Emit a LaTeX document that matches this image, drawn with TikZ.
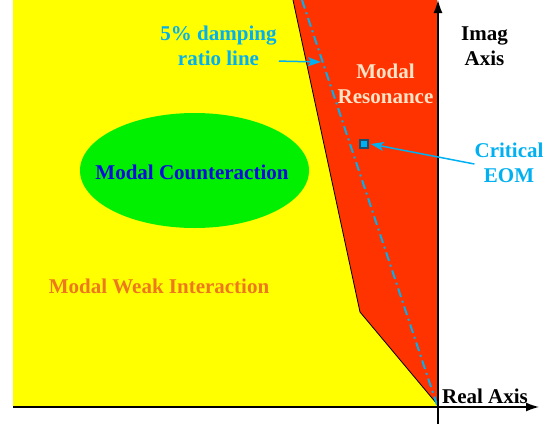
\documentclass[tikz,border=0pt]{standalone}
\usepackage{fontspec}
\setmainfont{Liberation Serif}
\newfontfamily\timesbold{Liberation Serif Bold}
\usetikzlibrary{arrows.meta}

\definecolor{areayellow}{RGB}{255,255,0}
\definecolor{areared}{RGB}{255,51,0}
\definecolor{areagreen}{RGB}{0,240,0}
\definecolor{txtblue}{RGB}{10,10,220}
\definecolor{txtorange}{RGB}{238,120,30}
\definecolor{txtcyan}{RGB}{0,176,240}
\definecolor{txtcream}{RGB}{255,228,200}
\definecolor{eomedge}{RGB}{30,80,110}

\tikzset{
  lbl/.style={font=\timesbold\fontsize{21}{25}\selectfont, inner sep=0pt, align=center},
  pointer/.style={-{Stealth[length=13pt,width=9pt,inset=3pt]}, txtcyan, line width=1.5pt}
}

\begin{document}
\begin{tikzpicture}[x=1pt,y=-1pt]
  \useasboundingbox (0,0) rectangle (557,424);

  % regions
  \fill [areayellow] (13,0) rectangle (437,407);
  \fill [areared] (293,0) -- (360,312) -- (437,404) -- (437,0) -- cycle;
  \draw [line width=0.8pt] (293,0) -- (360,312) -- (437,404);
  \fill [areagreen] (194.5,170.5) ellipse [x radius=114.5, y radius=57.5];

  % 5% damping ratio line
  \draw [txtcyan, line width=2pt, dash pattern=on 9pt off 4pt on 2pt off 4pt] (302,0) -- (437,405);
  \coordinate (DampPt) at (321,62);

  % axes
  \coordinate (ImagTop) at (438,0);
  \coordinate (ImagBot) at (438,424);
  \coordinate (RealLeft) at (13,407);
  \coordinate (RealRight) at (539,407);
  \draw [-{Latex[length=13pt,width=9pt]}, line width=1.4pt] (ImagBot) -- (ImagTop);
  \draw [-{Latex[length=13pt,width=9pt]}, line width=1.4pt] (RealLeft) -- (RealRight);

  % critical EOM marker
  \node [draw=eomedge, fill=txtcyan, line width=1.5pt, minimum size=8pt, inner sep=0pt] (EOM) at (364,144) {};

  % labels
  \node [lbl, txtblue] (Counter) at (192,172) {Modal Counteraction};
  \node [lbl, txtorange] (Weak) at (159,286) {Modal Weak Interaction};
  \node [lbl, txtcyan] (DampText) at (218.5,46) {5\% damping\\ratio line};
  \node [lbl, txtcream] (Reson) at (385.5,84) {Modal\\Resonance};
  \node [lbl] (ImagText) at (484.5,46) {Imag\\Axis};
  \node [lbl, txtcyan] (CritText) at (509,163) {Critical\\EOM};
  \node [lbl, anchor=base] (RealText) at (485,403) {Real Axis};

  % pointers
  \draw [pointer] (DampText.south east) ++(2,-5) coordinate (DampFrom) -- (DampPt);
  \draw [pointer] (CritText.west) ++(0,1) -- ([xshift=2pt]EOM.east);
\end{tikzpicture}
\end{document}
